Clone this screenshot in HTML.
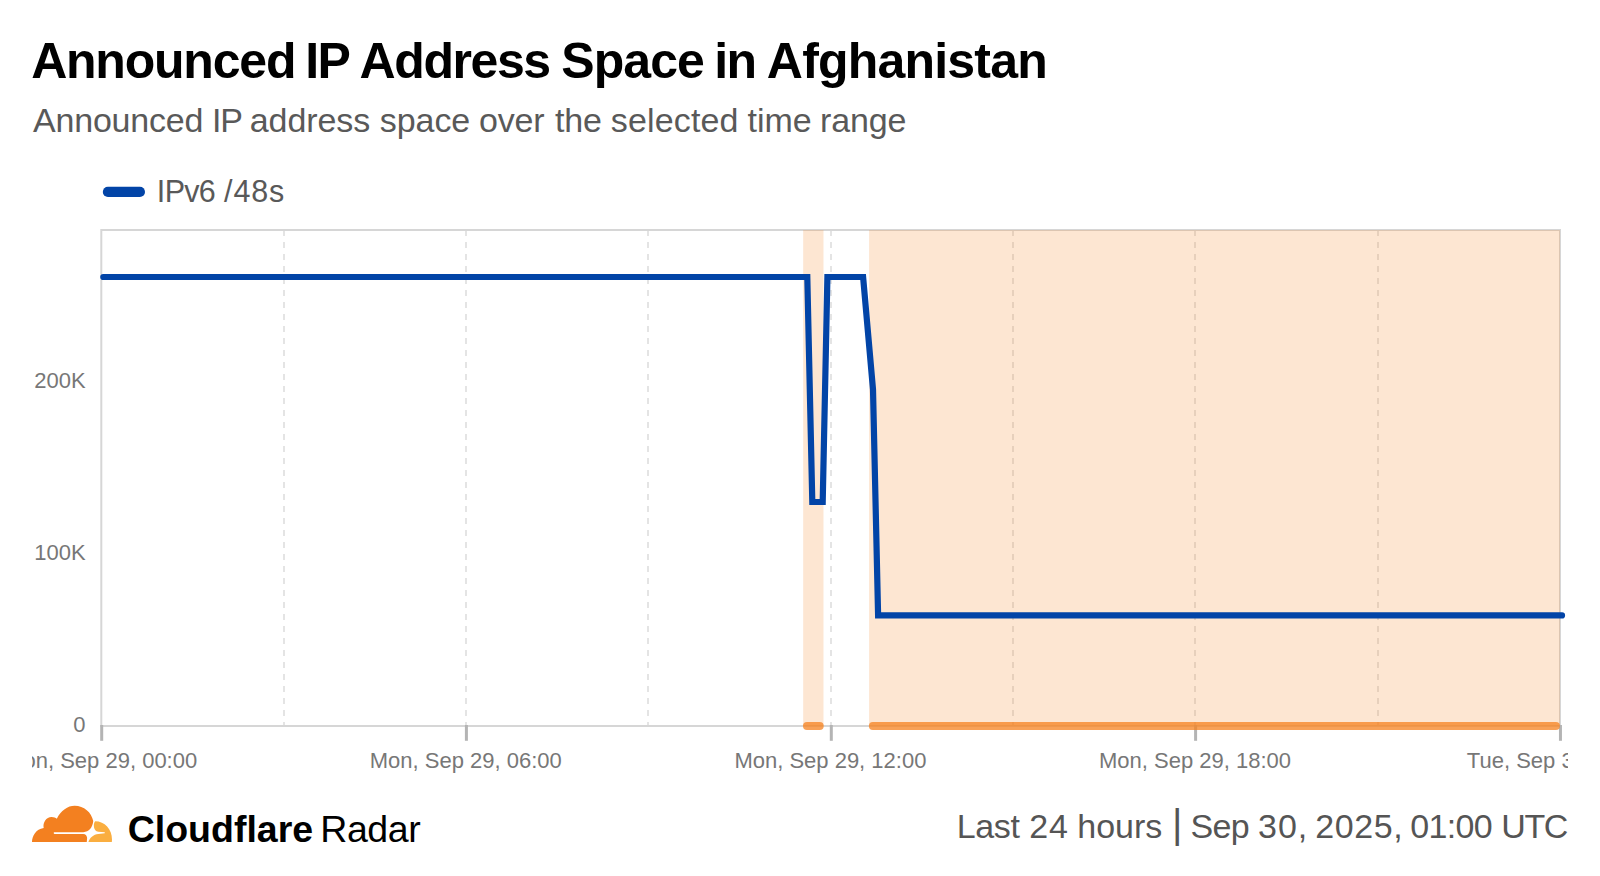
<!DOCTYPE html>
<html lang="en">
<head>
<meta charset="utf-8">
<title>Announced IP Address Space in Afghanistan</title>
<style>
html,body{margin:0;padding:0;background:#fff;}
body{width:1600px;height:876px;position:relative;overflow:hidden;font-family:"Liberation Sans",sans-serif;}
svg{position:absolute;left:0;top:0;display:block;}
svg text{font-family:"Liberation Sans",sans-serif;}
.ax{font-size:22px;fill:#777;}
</style>
</head>
<body>
<svg width="1600" height="876" viewBox="0 0 1600 876">
  <defs>
    <clipPath id="clipx"><rect x="32" y="740" width="1536" height="40"/></clipPath>
  </defs>

  <!-- heading -->
  <text id="title" y="78.4" font-size="50" font-weight="700" fill="#000"><tspan x="31.15" letter-spacing="-1.212">Announced</tspan> <tspan x="305.23" letter-spacing="-1.71">IP</tspan> <tspan x="359.56" letter-spacing="-1.411">Address</tspan> <tspan x="561.27" letter-spacing="-0.942">Space</tspan> <tspan x="714.21" letter-spacing="-1.51">in</tspan> <tspan x="766.84" letter-spacing="-0.796">Afghanistan</tspan></text>
  <text id="subtitle" y="132.2" font-size="34" fill="#595959"><tspan x="33.0" letter-spacing="-0.2">Announced</tspan> <tspan x="212.0" letter-spacing="-1.2">IP</tspan> <tspan x="249.8" letter-spacing="-0.1">address</tspan> <tspan x="379.8" letter-spacing="-0.07">space</tspan> <tspan x="479.0" letter-spacing="-0.15">over</tspan> <tspan x="555.0" letter-spacing="-0.15">the</tspan> <tspan x="610.8" letter-spacing="0.15">selected</tspan> <tspan x="747.5" letter-spacing="-0.05">time</tspan> <tspan x="820.0" letter-spacing="-0.15">range</tspan></text>

  <!-- legend -->
  <rect x="102.8" y="186.8" width="42.2" height="10.2" rx="5.1" fill="#0244a7"/>
  <text id="legend" y="202.1" font-size="30.5" fill="#595959"><tspan x="156.83" letter-spacing="-0.674">IPv6</tspan> <tspan x="224.07" letter-spacing="0.883">/48s</tspan></text>

  <!-- grid -->
  <g stroke="#e4e4e4" stroke-width="2" stroke-dasharray="6 6">
    <line x1="284" y1="230" x2="284" y2="726"/>
    <line x1="466" y1="230" x2="466" y2="726"/>
    <line x1="648" y1="230" x2="648" y2="726"/>
    <line x1="831" y1="230" x2="831" y2="726"/>
    <line x1="1013" y1="230" x2="1013" y2="726"/>
    <line x1="1195" y1="230" x2="1195" y2="726"/>
    <line x1="1378" y1="230" x2="1378" y2="726"/>
  </g>
  <!-- frame -->
  <rect x="101.3" y="230" width="1458.7" height="496" fill="none" stroke="#d6d6d6" stroke-width="2"/>
  <!-- bands -->
  <rect x="803.2" y="230" width="20.3" height="496" fill="#f6821f" fill-opacity="0.2"/>
  <rect x="869.1" y="230" width="690.9" height="496" fill="#f6821f" fill-opacity="0.2"/>
  <!-- ticks -->
  <g stroke="#b4b4b4" stroke-width="3">
    <line x1="101.7" y1="725" x2="101.7" y2="740.8"/>
    <line x1="466.4" y1="725" x2="466.4" y2="740.8"/>
    <line x1="831.3" y1="725" x2="831.3" y2="740.8"/>
    <line x1="1195.6" y1="725" x2="1195.6" y2="740.8"/>
    <line x1="1560.45" y1="725" x2="1560.45" y2="740.8"/>
  </g>
  <!-- band markers -->
  <rect x="803" y="722" width="20.7" height="8" rx="4" fill="#f6821f" fill-opacity="0.75"/>
  <rect x="868.9" y="722" width="691" height="8" rx="4" fill="#f6821f" fill-opacity="0.75"/>
  <!-- data line -->
  <polyline fill="none" stroke="#0244a7" stroke-width="6.2" stroke-linecap="round" stroke-linejoin="miter"
    points="103.3,277 807.3,277 812.3,502 822.7,502 827.4,277 863.1,277 873,389.5 878.1,615.4 1562,615.4"/>
  <!-- y labels -->
  <g text-anchor="end" class="ax">
    <text x="85.6" y="387.8">200K</text>
    <text x="85.6" y="560">100K</text>
    <text x="85.6" y="732.2">0</text>
  </g>
  <!-- x labels -->
  <g text-anchor="middle" clip-path="url(#clipx)" class="ax">
    <text x="101.2" y="767.5">Mon, Sep 29, 00:00</text>
    <text x="465.8" y="767.5">Mon, Sep 29, 06:00</text>
    <text x="830.4" y="767.5">Mon, Sep 29, 12:00</text>
    <text x="1195" y="767.5">Mon, Sep 29, 18:00</text>
    <text x="1560" y="767.5">Tue, Sep 30, 00:00</text>
  </g>

  <!-- logo -->
  <g transform="translate(24,796) scale(0.0625)">
    <path fill="#f38020" d="M128,735 C130,640 190,530 315,512 C298,430 355,337 440,337 C480,337 505,350 525,362 C590,230 700,155 810,155 C960,155 1080,260 1108,400 C1095,510 1040,570 950,579 L490,580 C478,580 475,586 475,593 C475,600 478,606 490,606 L945,606 C988,606 1010,640 1010,672 L1004,735 Z"/>
    <path fill="#faae40" d="M1140,405 C1290,405 1408,530 1408,700 L1405,735 L1031,735 C1048,670 1110,612 1190,606 L1292,597 L1292,581 L1190,572 C1150,570 1120,530 1118,480 C1116,450 1125,420 1140,405 Z"/>
  </g>
  <text id="brand" y="841.5" font-size="37.5" fill="#000"><tspan x="127.68" font-weight="700" letter-spacing="0.006">Cloudflare</tspan> <tspan x="320.24" letter-spacing="-0.435">Radar</tspan></text>
  <text id="stamp" y="837.5" font-size="34" fill="#555"><tspan x="956.75" letter-spacing="-0.373">Last</tspan> <tspan x="1029.31" letter-spacing="0.89">24</tspan> <tspan x="1077.32" letter-spacing="-0.036">hours</tspan> <tspan x="1172.09" letter-spacing="0" font-size="40">|</tspan> <tspan x="1190.6" letter-spacing="-0.765">Sep</tspan> <tspan x="1258.07" letter-spacing="0.935">30,</tspan> <tspan x="1315.27" letter-spacing="0.604">2025,</tspan> <tspan x="1410.25" letter-spacing="-0.673">01:00</tspan> <tspan x="1501.32" letter-spacing="-1.48">UTC</tspan></text>
</svg>
</body>
</html>
